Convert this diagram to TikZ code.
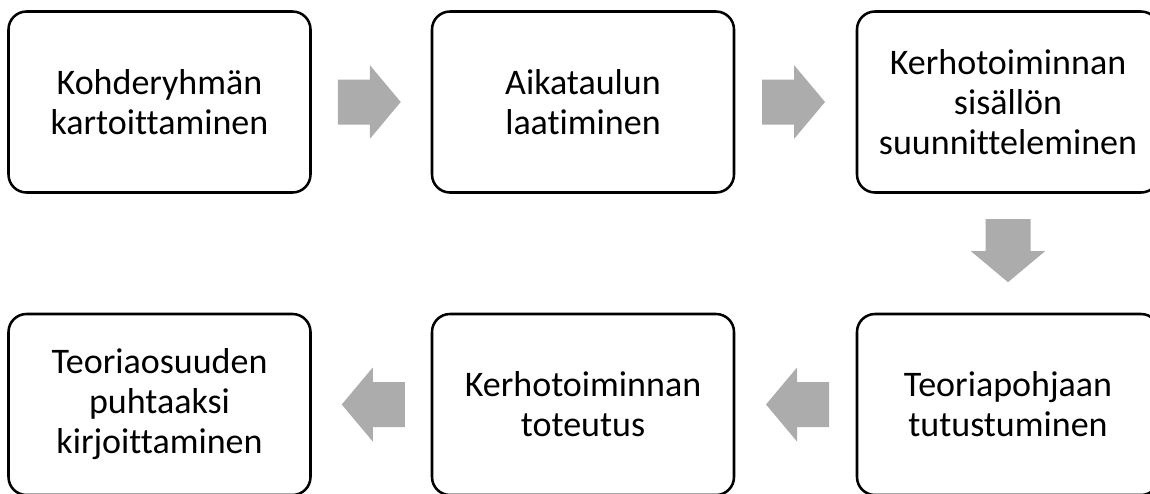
\documentclass[tikz,border=0pt]{standalone}
\usepackage{fontspec}
\setmainfont[Ligatures={NoCommon}]{Carlito}
\usepackage{tikz}
\tikzset{vaihe/.style={draw,line width=1.9pt,rounded corners=13.5pt,
    minimum width=226.5pt,minimum height=135.75pt,align=center,
    font=\fontsize{27}{30}\selectfont,inner sep=0pt}}
\tikzset{nuoli/.pic={\fill [gray!65] (-31.5,-22.5) -- (0.5,-22.5) -- (0.5,-37)
    -- (31.5,0) -- (0.5,37) -- (0.5,22.5) -- (-31.5,22.5) -- cycle;}}

\begin{document}
\begin{tikzpicture}[x=0.75pt,y=-0.75pt]
    \useasboundingbox (0,0) rectangle (1150,493);

    \coordinate (v1) at (159.5, 102);
    \coordinate (v2) at (583, 102);
    \coordinate (v3) at (1008, 102);
    \coordinate (v4) at (1008, 404.5);
    \coordinate (v5) at (583, 404.5);
    \coordinate (v6) at (159.5, 404.5);

    \node [vaihe] (k1) at (v1) {Kohderyhmän\\kartoittaminen};
    \node [vaihe] (k2) at (v2) {Aikataulun\\laatiminen};
    \node [vaihe] (k3) at (v3) {Kerhotoiminnan\\sisällön\\suunnitteleminen};
    \node [vaihe] (k4) at (v4) {Teoriapohjaan\\tutustuminen};
    \node [vaihe] (k5) at (v5) {Kerhotoiminnan\\toteutus};
    \node [vaihe] (k6) at (v6) {Teoriaosuuden\\puhtaaksi\\kirjoittaminen};

    \path (k1.east) -- (k2.west) coordinate [midway] (m12);
    \path (k2.east) -- (k3.west) coordinate [midway] (m23);
    \path (k3.south) -- (k4.north) coordinate [midway] (m34);
    \path (k4.west) -- (k5.east) coordinate [midway] (m45);
    \path (k5.west) -- (k6.east) coordinate [midway] (m56);

    \pic at ([xshift=-1.5pt]m12) {nuoli};
    \pic at ([xshift=-1.5pt]m23) {nuoli};
    \pic [rotate=-90] at ([yshift=1.9pt]m34) {nuoli};
    \pic [rotate=180] at ([xshift=1.5pt]m45) {nuoli};
    \pic [rotate=180] at ([xshift=1.5pt]m56) {nuoli};
  \end{tikzpicture}
\end{document}
